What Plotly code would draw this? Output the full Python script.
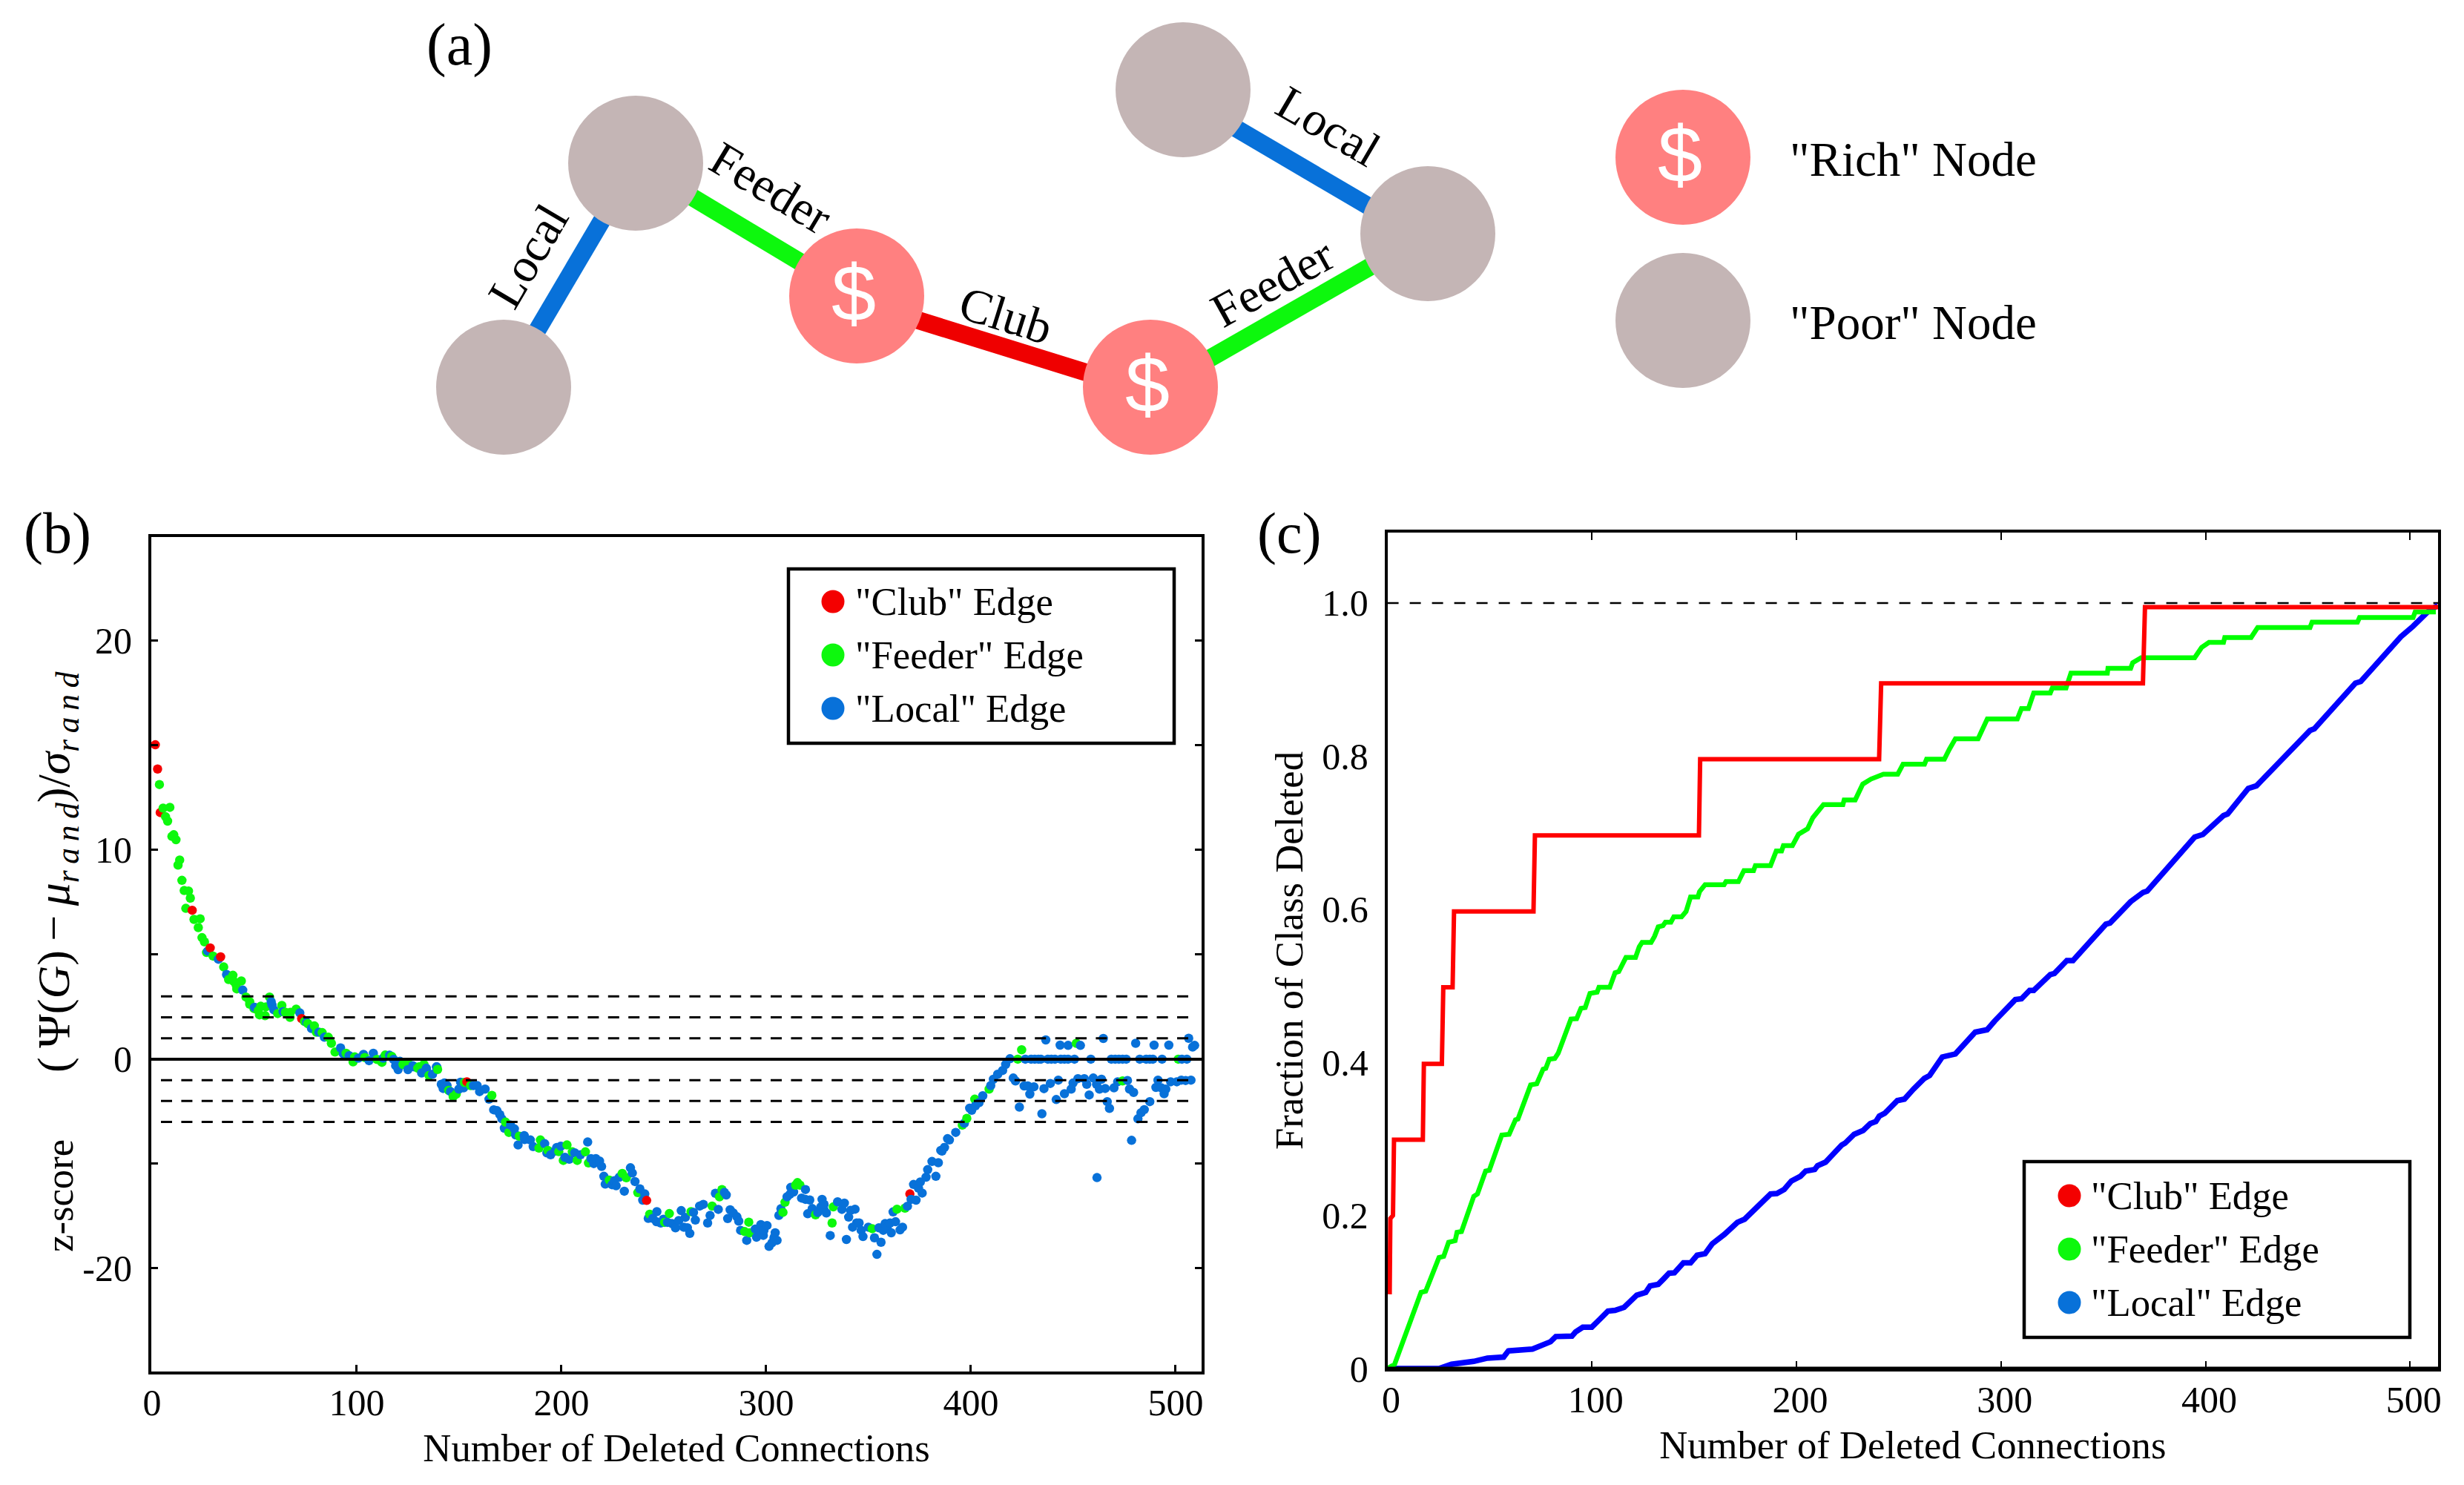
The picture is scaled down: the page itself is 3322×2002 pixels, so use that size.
import plotly.graph_objects as go

FONT = "Liberation Serif"
RED, GREEN, BLUE = "#f40000", "#0df80d", "#0871d9"

# ---------- panel (b): z-score per deleted connection ----------
club_x = [1.6,2.7,4.0,19.6,28.4,33.5,73.1,153.8,241.6,370.2]
club_y = [15.03,13.87,11.79,7.12,5.32,4.89,1.94,-1.08,-6.75,-6.44]

feeder_x = [3.6,5.4,8.7,6.6,7.6,9.7,10.6,11.7,13.5,12.7,14.6,15.7,17.8,18.7,16.5,20.5,23.5,22.6,24.4,25.6,26.6,
  29.8,35.0,39.5,37.4,39.9,43.6,41.1,41.4,45.9,47.7,47.7,49.8,51.9,52.5,53.1,55.2,55.6,57.4,61.4,63.4,65.2,67.4,
  67.6,70.4,74.5,76.1,79.3,80.3,83.1,86.1,87.6,89.4,94.8,98.2,99.0,103.9,109.9,112.3,113.9,117.1,123,125,130.4,
  132.8,139.5,122.6,129.8,131.7,135.3,144.9,147.1,148.6,152.6,155.6,166,172.7,174.3,179.4,189,189.7,193.4,198.7,
  202.7,200.9,205.3,207.7,211.7,213.2,223.4,229.7,231.7,237.3,243.1,250.4,252.7,263.3,273.6,277.2,278.4,289.5,
  291.5,291.9,308.2,309.2,314.4,315.3,316.5,324.1,332.8,332.2,351.8,363.9,367.8,395.8,398,401.9,408.9,422.9,
  424.8,451.5,474.1,501.3]
feeder_y = [13.13,12.0,12.04,11.59,11.38,10.65,10.73,10.49,9.52,9.28,8.55,8.06,8.04,7.70,7.21,6.68,6.71,6.29,5.81,5.61,5.10,
  4.93,4.41,4.01,3.81,3.72,3.74,3.54,3.36,2.97,2.75,2.63,2.42,2.32,2.12,2.53,2.08,2.50,2.97,2.18,2.57,2.24,2.0,
  2.24,2.39,1.8,1.7,1.59,1.29,1.27,1.05,0.76,0.34,0.28,-0.13,0.11,0.08,-0.01,-0.15,0.2,0.13,-0.25,-0.19,-0.37,
  -0.25,-0.49,-0.25,-0.43,-0.5,-0.78,-1.49,-1.79,-1.67,-1.11,-1.26,-1.73,-3.01,-3.5,-3.68,-4.25,-3.86,-4.36,-4.42,
  -4.1,-4.84,-4.43,-4.84,-4.43,-4.96,-5.78,-5.46,-5.67,-6.38,-7.41,-7.8,-7.38,-7.29,-7.02,-6.58,-6.23,-8.24,
  -7.79,-8.3,-7.32,-6.84,-6.02,-5.9,-6.02,-7.44,-7.06,-7.83,-8.1,-7.17,-7.12,-3.15,-2.83,-1.91,-1.43,0,
  0.45,0.76,-1.04,0]

local_x = [27.2,32.4,36.4,44.3,50.1,58.2,58.6,59.5,64.0,72.2,75.5,77.9,81.5,84.2,92.1,93.4,96.3,100.8,103.3,106.0,
  108.1,112.9,116,118,119,119.6,120.2,121.1,125,127.4,128,131.7,134,134,137,138.9,139.1,
  141.3,142.8,142.2,144.1,145.8,149.9,152.2,150.7,157,158.8,160,162.7,164.6,166.9,168.5,169.9,170.9,172.1,175.1,
  177,177.6,178.8,181.8,182,184.8,186.2,191.8,192.9,194.7,196.9,197.7,199.7,201.7,203.8,206.5,209.3,212.8,214.4,
  215.8,216.8,218.6,219.6,220.7,221.4,224.7,226.7,225.9,228.3,230.7,233.7,234.6,235.9,238.3,240.7,239.7,242.4,
  246.6,244.6,246.4,248.5,249.8,251.8,254,255.7,257.3,258.5,260.5,259.7,261.5,262.7,265.4,264.5,267.5,269.3,
  276.6,272.6,271.4,275.2,279.6,280.5,281.2,282.4,283.9,285.7,286.6,287.5,290.5,294.7,295.3,297.4,296.5,298.6,
  300.4,298.9,304.4,303.8,305.3,301.4,302.8,306.2,307.2,310.2,311.6,312,313.4,319.2,317.3,319.2,321.3,320.3,322.5,
  325.2,327.3,326.7,328.3,329.4,328.2,331.3,334.9,338.2,337,339.2,340.3,341.2,343.4,342.2,344.2,345.4,346.4,347.3,
  349.9,352.9,354.1,356.1,355.1,357.2,358.1,359.1,361.1,360.5,363.2,365.4,366.6,362,369,370.8,373.2,372,374.4,
  376.2,375.3,378.1,382.9,378.9,381,384.1,385.3,387.1,388.6,385.9,389.5,392.6,396.8,399.4,400.4,402.2,404,405.8,
  409.7,411,413.1,415.5,417,419.1,420.7,421.8,423.7,426.6,426,427.8,428.8,430.8,429.4,431.2,433,434.2,435.7,434.7,
  436.6,437.6,439.3,441.1,438.8,441.7,442.7,443.6,443.9,445.7,447.5,445.7,447.5,449,449.9,450.6,453.5,452.3,455.4,
  456.6,457.8,458.6,459.8,461.4,461.6,463.8,462.8,464.7,465.6,466.6,467.7,468.6,470.5,472.3,474.1,475.9,469.9,
  471.7,476.5,477.5,479.5,478.5,480.5,481.6,483.1,484.7,482.5,485.6,487.4,488.9,487.4,489.5,490.4,491.4,493.4,
  493,495.2,494.4,496.7,497.6,500.6,502.8,503.1,505.5,504.9,506.4,507.5,508.3,509.3]
local_y = [5.17,4.78,4.05,3.30,2.48,2.75,2.59,2.36,2.27,2.21,1.76,1.47,1.29,1.05,0.54,0.26,0.17,0.05,0.23,-0.07,
  0.28,0.05,0.19,-0.01,-0.31,-0.31,-0.5,-0.1,-0.5,-0.31,-0.37,-0.66,-0.43,-0.5,-0.72,-0.37,-0.37,
  -1.2,-1.14,-1.4,-1.26,-1.55,-1.43,-1.37,-1.10,-1.26,-1.26,-1.55,-1.43,-1.91,-2.42,-2.46,-2.65,-2.85,-3.3,-3.15,
  -3.33,-3.62,-4.1,-3.65,-3.84,-3.86,-4.18,-4.04,-4.48,-4.57,-4.39,-4.22,-4.16,-4.69,-4.78,-4.48,-4.57,-3.96,-4.75,
  -4.99,-4.75,-4.87,-5.13,-5.6,-5.97,-6.0,-6.05,-5.81,-5.64,-6.31,-5.19,-5.44,-5.85,-6.2,-6.44,-6.74,-7.61,
  -7.29,-7.61,-7.77,-7.83,-7.65,-7.8,-7.86,-8.06,-7.71,-7.24,-7.56,-8.03,-8.06,-8.33,-7.69,-7.32,-7.02,-6.94,
  -7.18,-7.47,-7.83,-6.41,-6.37,-6.49,-7.62,-7.2,-7.35,-7.53,-7.74,-8.18,-8.66,-8.12,-8.51,-7.91,-8.18,-8.42,
  -7.95,-8.18,-8.3,-8.54,-8.66,-8.95,-8.78,-7.47,-7.15,-6.58,-6.46,-6.13,-6.35,-6.23,-6.64,-6.7,-6.73,-7.39,-7.14,
  -7.33,-6.7,-7.06,-6.94,-7.35,-7.18,-8.43,-6.82,-6.88,-7.18,-8.62,-7.55,-7.23,-7.17,-8.03,-7.83,-7.83,-8.18,-8.48,
  -8.03,-8.54,-9.33,-8.75,-8.06,-8.18,-7.86,-8.06,-8.3,-7.83,-7.77,-8.16,-8.03,-7.3,-7.03,-6.7,-6.74,-5.99,-6.17,
  -6.4,-5.87,-5.64,-5.6,-5.28,-4.89,-4.95,-4.36,-4.22,-3.8,-4.39,-3.86,-3.5,-3.06,-2.34,-2.44,-2.23,-2.08,-1.75,
  -1.26,-0.96,-0.72,-0.54,-0.25,0.02,-0.9,-1.04,-2.29,0,-1.28,-1.28,-1.67,-1.32,0,0,0,0,-1.41,-2.61,
  0.92,0,0,0,-1.16,-1.93,-1.0,0.67,0,0,0,-1.65,0.66,-1.43,-1.14,0,0.66,-0.93,-0.93,
  -1.2,-1.71,0,-0.9,-1.2,-5.66,-0.96,-1.43,0.99,-1.4,-2.03,-2.35,0,0,0,0,0,-1.37,
  -1.08,-1.02,-1.43,-1.59,-3.88,0.76,-2.85,-2.56,-2.41,0,0,-2.03,0,0,0.67,-1.35,-1,0,
  -1.37,-1.43,-1.65,0.67,-1.08,-1.08,-1,0,0,-1.02,1,-1,0.58,0.66]

sigma_levels = [3, 2, 1, -1, -2, -3]
b_xticks = [0, 100, 200, 300, 400, 500]
b_yticks = [-10, 0, 10, 20]
b_yticktext = ["-20", "0", "10", "20"]
b_yminor = [-5, 5, 15]

# ---------- panel (c): fraction of class deleted ----------
club_frac_x = [1.08,1.4,2.7,3.2,17.3,17.8,26.6,27.3,31.85,32.55,71.4,72.1,152.3,152.9,240.4,241.4,369.4,370.4,513.8]
club_frac_y = [0.097,0.196,0.20,0.299,0.299,0.398,0.398,0.498,0.498,0.597,0.597,0.6965,0.6965,0.796,0.796,0.895,0.895,0.9947,0.9947]

feeder_frac_x = [0,1.4,3.5,16.4,18.7,25.2,27.5,29.9,33.1,34,36.2,42.2,44,48,49.8,55.9,59.5,62.6,63.8,70,73,76.1,77.4,79.1,
  81.8,83.5,89.7,92.5,94.6,96.7,99,102.5,103.4,108.7,111.3,113.1,115.7,116.6,121.3,123.1,124.5,128.9,130.6,132.4,
  134.7,135.9,138.6,140,143.8,146,148.2,151.8,152.6,155.3,164.6,165.5,171.6,174.3,179,179.9,187.3,190.1,192.7,193.6,
  198,201,205.4,208,213.2,222.7,223.3,228.7,232.4,236.4,242.5,249.5,252.1,262.6,263.6,272.3,274.7,277.7,288.8,293.3,
  308,310,313.4,316,324.1,325.1,331.8,334.2,352,352.3,363.4,364.4,368.5,394.7,398.1,401.7,408.8,409.4,422.3,425.5,
  451.1,452.1,474.3,475.3,501.5,502.5,512.6]
feeder_frac_y = [0,0.003,0.0056,0.0996,0.101,0.145,0.1465,0.165,0.167,0.178,0.179,0.225,0.228,0.258,0.259,0.305,0.306,0.325,0.326,0.3706,0.372,0.391,0.392,0.404,
  0.405,0.412,0.4565,0.457,0.4706,0.4715,0.490,0.4917,0.498,0.498,0.517,0.5185,0.535,0.537,0.537,0.551,0.5566,0.5566,0.5646,0.577,
  0.5786,0.583,0.583,0.590,0.590,0.597,0.616,0.616,0.623,0.632,0.632,0.636,0.636,0.6505,0.6505,0.657,0.657,0.676,0.676,0.683,
  0.683,0.698,0.705,0.7196,0.7366,0.7366,0.7427,0.7427,0.7634,0.77,0.7764,0.7764,0.7894,0.7894,0.796,0.796,0.8088,0.8227,0.8227,0.8486,
  0.8486,0.862,0.862,0.8824,0.8824,0.889,0.889,0.9083,0.9083,0.9148,0.9148,0.9221,0.9286,0.9286,0.942,0.9485,0.9485,0.955,0.955,0.968,
  0.968,0.975,0.975,0.981,0.981,0.9883,0.9883]

local_frac_x = [0,25.2,31.3,42.2,48.9,56.8,59.1,70.9,79.7,82.3,90.2,92,95.5,99.9,103.8,107.8,111.3,115.7,121.9,126.3,128.4,
  132.4,135,137.7,140.3,144.7,148.2,151.4,155.3,158.8,164.9,171.1,174.6,179,187.3,190.4,194,197.5,201.9,204.5,208.9,
  210.3,214.2,222.1,223.8,228.2,232.6,236.1,238.8,240.5,243.2,249.3,252.8,257.2,262.5,265.1,271.3,277.7,287.4,293.2,
  296.9,307,310,314,316,324.1,326.1,332.2,335.2,351.3,353.3,363.4,369.5,371.5,381.6,394.7,398.7,401.7,408.8,410.8,
  420.9,424.9,438,451.1,453.2,473.3,475.9,489.4,495.5,501.5,508.6,513.6]
local_frac_y = [0,0,0.0056,0.0094,0.0136,0.015,0.023,0.0254,0.035,0.0418,0.0423,0.0479,0.054,0.054,0.0643,0.075,0.076,0.080,0.0958,0.0995,0.108,
  0.110,0.117,0.1245,0.125,0.138,0.138,0.148,0.150,0.163,0.1756,0.191,0.195,0.2067,0.228,0.2287,0.234,0.245,0.251,0.258,0.260,
  0.265,0.2696,0.292,0.2945,0.306,0.311,0.320,0.3227,0.3297,0.3335,0.35,0.352,0.365,0.379,0.3828,0.407,0.411,0.4394,0.4426,
  0.454,0.482,0.483,0.494,0.494,0.5147,0.516,0.533,0.533,0.5805,0.582,0.6099,0.622,0.6237,0.6553,0.6942,0.6977,0.705,0.7223,0.7245,
  0.7578,0.7612,0.7967,0.8335,0.8356,0.8953,0.8975,0.9364,0.9559,0.9697,0.9883,0.997]

c_xticks = [0, 100, 200, 300, 400, 500]
c_yticks = [0, 0.2, 0.4, 0.6, 0.8, 1.0]
c_yticktext = ["0", "0.2", "0.4", "0.6", "0.8", "1.0"]

# ---------- panel (a): schematic network, in page pixels ----------
poor_x = [679, 857, 1925, 1595, 2269]
poor_y = [522, 220, 315, 121, 432]
rich_x = [1155, 1551, 2269]
rich_y = [399, 522, 212]
edges = [("local", 679, 522, 857, 220), ("feeder", 857, 220, 1155, 399), ("club", 1155, 406, 1551, 529),
         ("feeder", 1551, 529, 1925, 315), ("local", 1595, 131, 1925, 325)]
edge_colors = {"club": "#ef0000", "feeder": "#0df80d", "local": "#0871d9"}
edge_labels = [("Local", 712, 345, -59.5), ("Feeder", 1039, 253, 31), ("Club", 1356, 425, 17.3),
               ("Feeder", 1715, 381, -29), ("Local", 1791, 170, 30.4)]
legend_names = ['"Club" Edge', '"Feeder" Edge', '"Local" Edge']
legend_colors = [RED, GREEN, BLUE]

W, H = 3322, 2002
fig = go.Figure()

# merged and ordered by deletion rank so later points overlay earlier ones, as in the reference
pts = [(x, y, RED) for x, y in zip(club_x, club_y)] + \
      [(x, y, GREEN) for x, y in zip(feeder_x, feeder_y)] + \
      [(x, y, BLUE) for x, y in zip(local_x, local_y)]
pts.sort(key=lambda p: p[0])
fig.add_trace(go.Scatter(x=[p[0] for p in pts], y=[p[1] for p in pts], mode="markers",
                         marker=dict(size=12.5, color=[p[2] for p in pts], line=dict(width=0)),
                         xaxis="x", yaxis="y", showlegend=False))
for lv in sigma_levels:
    fig.add_trace(go.Scatter(x=[4.35, 509], y=[lv, lv], mode="lines", showlegend=False,
                             line=dict(color="black", width=3, dash="15px,12.4px"), xaxis="x", yaxis="y"))
fig.add_trace(go.Scatter(x=[-0.4, 512.7], y=[0, 0], mode="lines", showlegend=False,
                         line=dict(color="black", width=4), xaxis="x", yaxis="y"))

fig.add_trace(go.Scatter(x=[0, 513.7], y=[1, 1], mode="lines", showlegend=False,
                         line=dict(color="black", width=2.5, dash="15px,15px"), xaxis="x2", yaxis="y2"))
fig.add_trace(go.Scatter(x=local_frac_x, y=local_frac_y, mode="lines", showlegend=False,
                         line=dict(color="#0000ff", width=7.5), xaxis="x2", yaxis="y2"))
fig.add_trace(go.Scatter(x=feeder_frac_x, y=feeder_frac_y, mode="lines", showlegend=False,
                         line=dict(color="#00ff00", width=6.5), xaxis="x2", yaxis="y2"))
fig.add_trace(go.Scatter(x=club_frac_x, y=club_frac_y, mode="lines", showlegend=False,
                         line=dict(color="#ff0000", width=6), xaxis="x2", yaxis="y2"))

for kind, x0, y0, x1, y1 in edges:
    fig.add_trace(go.Scatter(x=[x0, x1], y=[y0, y1], mode="lines", showlegend=False,
                             line=dict(color=edge_colors[kind], width=24), xaxis="x3", yaxis="y3"))
fig.add_trace(go.Scatter(x=poor_x, y=poor_y, mode="markers", showlegend=False,
                         marker=dict(size=182, color="#c4b5b5", line=dict(width=0)), xaxis="x3", yaxis="y3"))
fig.add_trace(go.Scatter(x=rich_x, y=rich_y, mode="markers", showlegend=False,
                         marker=dict(size=182, color="#ff8080", line=dict(width=0)), xaxis="x3", yaxis="y3"))

annots = []
def txt(x, y, s, size=52.7, angle=0, anchor="center", color="black", family=FONT):
    annots.append(dict(x=x, y=y, xref="x3", yref="y3", text=s, showarrow=False, textangle=angle,
                       xanchor=anchor, yanchor="middle", font=dict(family=family, size=size, color=color)))

for s, x, y, a in edge_labels:
    txt(x, y, s, size=65, angle=a)
for x, y in zip(rich_x, rich_y):
    txt(x - 4, y - 4, "$", size=108, color="white", family="Liberation Sans")
txt(2411, 215, '"Rich" Node', size=65, anchor="left")
txt(2411, 435, '"Poor" Node', size=65, anchor="left")
txt(619, 60, "(a)", size=80)
txt(77, 718, "(b)", size=78)
txt(1738, 718, "(c)", size=78)

txt(80, 1612, "z-score", angle=-90)
T = "\u2009"
rand = T.join("rand")
txt(76, 1176, f"({T}Ψ(<i>G</i>){T}−{T}<i>μ<sub>{rand}</sub></i>)/<i>σ<sub>{rand}</sub></i>", size=62, angle=-90)

shapes = []
for bx0, by0, bx1, by1, mx, tx, ys in [(1063, 767, 1583, 1002, 1123, 1151, [811, 883, 955]),
                                       (2729, 1566, 3249, 1803, 2790, 2817, [1612, 1684, 1756])]:
    shapes.append(dict(type="rect", xref="x3", yref="y3", x0=bx0, y0=by0, x1=bx1, y1=by1,
                       line=dict(color="black", width=4.5), fillcolor="rgba(0,0,0,0)"))
    fig.add_trace(go.Scatter(x=[mx] * 3, y=ys, mode="markers", showlegend=False,
                             marker=dict(size=31, color=legend_colors, line=dict(width=0)), xaxis="x3", yaxis="y3"))
    for yy, name in zip(ys, legend_names):
        txt(tx, yy, name, anchor="left")

shapes.append(dict(type="line", xref="x2", yref="y2", x0=0, x1=513.7, y0=0, y1=0, line=dict(color="black", width=5)))

tickfont = dict(family=FONT, size=50, color="black")
titlefont = dict(family=FONT, size=52.7, color="black")
axis = dict(showgrid=False, zeroline=False, showline=True, linecolor="black", ticks="inside",
            tickcolor="black", tickfont=tickfont)

fig.update_layout(
    width=W, height=H, margin=dict(l=0, r=0, t=0, b=0, autoexpand=False), autosize=False,
    paper_bgcolor="white", plot_bgcolor="rgba(0,0,0,0)", showlegend=False,
    annotations=annots, shapes=shapes,
    xaxis=dict(axis, domain=[204 / W, 1620 / W], range=[-0.36, 512.7], tickvals=b_xticks, linewidth=4,
               mirror=True, ticklen=9, tickwidth=2.5, anchor="y", ticklabelstandoff=-5,
               title=dict(text="Number of Deleted Connections", font=titlefont, standoff=16)),
    yaxis=dict(axis, domain=[1 - 1849 / H, 1 - 724 / H], range=[-14.93, 24.96], tickvals=b_yticks, ticktext=b_yticktext,
               linewidth=4, mirror="allticks", ticklen=9, tickwidth=2.5, anchor="x", ticklabelstandoff=12,
               minor=dict(tickvals=b_yminor, ticks="inside", ticklen=9, tickwidth=2.5, tickcolor="black")),
    xaxis2=dict(axis, domain=[1870.6 / W, 3287 / W], range=[0, 513.7], tickvals=c_xticks, linewidth=3.5,
                mirror="allticks", ticklen=10, tickwidth=2, anchor="y2", ticklabelstandoff=-5, ticklabelshift=5,
                title=dict(text="Number of Deleted Connections", font=titlefont, standoff=16)),
    yaxis2=dict(axis, domain=[1 - 1845 / H, 1 - 718 / H], range=[0, 1.092], tickvals=c_yticks, ticktext=c_yticktext,
                ticks="", linewidth=3.5, mirror=True, anchor="x2", ticklabelstandoff=12,
                title=dict(text="Fraction of Class Deleted", font=titlefont, standoff=10)),
    xaxis3=dict(domain=[0, 1], range=[0, W], visible=False, fixedrange=True, anchor="y3"),
    yaxis3=dict(domain=[0, 1], range=[H, 0], visible=False, fixedrange=True, anchor="x3"),
)
fig.write_html("out.html", config={"displayModeBar": False}, post_script="document.body.style.margin='0';")
